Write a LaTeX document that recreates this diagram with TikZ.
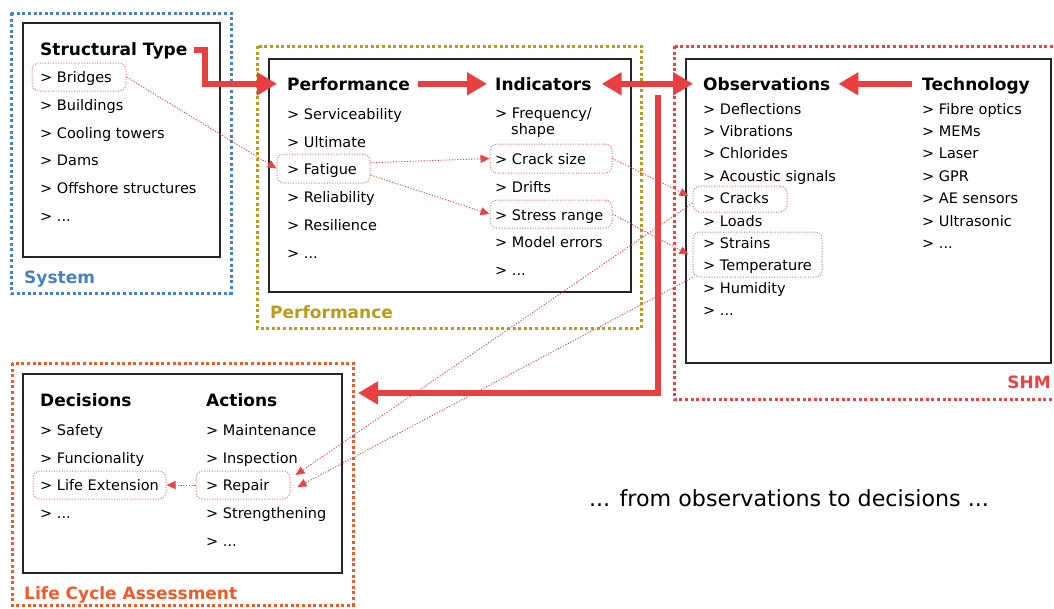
\documentclass[tikz,border=0pt]{standalone}
\usepackage{fontspec}
\setmainfont{DejaVu Sans}
\usetikzlibrary{arrows.meta}
\definecolor{sysblue}{RGB}{70,130,190}
\definecolor{perfolive}{RGB}{185,155,25}
\definecolor{shmred}{RGB}{232,68,68}
\definecolor{lcaorange}{RGB}{240,90,40}
\definecolor{arrred}{RGB}{232,64,64}
\definecolor{hlpink}{RGB}{240,110,110}
\definecolor{linkred}{RGB}{232,70,70}
\begin{document}
\begin{tikzpicture}[x=1pt,y=-1pt,
  item/.style={anchor=base west, inner sep=0pt, font=\fontsize{14.5}{16}\selectfont},
  head/.style={anchor=west, inner sep=0pt, text height=12.4pt, text depth=0pt, font=\bfseries\fontsize{17}{19}\selectfont},
  grplabel/.style={anchor=base west, inner sep=0pt, font=\bfseries\fontsize{17}{19}\selectfont},
  grp/.style={line width=3pt, dash pattern=on 3pt off 2.6pt},
  framebox/.style={draw=black!85, line width=1.6pt},
  hl/.style={draw=hlpink, line width=1pt, dash pattern=on 1pt off 1.6pt, rounded corners=7pt, inner sep=0pt},
  link/.style={draw=linkred, line width=0.9pt, dash pattern=on 1.2pt off 1.6pt, -{Triangle[length=9pt,width=8pt]}},
  bigarrow/.style={draw=arrred, line width=6pt, line join=miter, -{Triangle[length=20pt,width=22pt]}},
  bigdouble/.style={draw=arrred, line width=6pt, {Triangle[length=20pt,width=22pt]}-{Triangle[length=20pt,width=22pt]}}
]
\useasboundingbox (0,0) rectangle (1054,608);

% group frames
\draw[grp, draw=sysblue] (11,13) rectangle (231,293);
\draw[framebox] (23,23) rectangle (220,257);
\draw[grp, draw=perfolive] (257,46) rectangle (641,328);
\draw[framebox] (269,59) rectangle (631,292);
\draw[grp, draw=shmred] (674,46) rectangle (1062,399);
\draw[framebox] (686,59) rectangle (1051,363);
\draw[grp, draw=lcaorange] (12,363) rectangle (353,605);
\draw[framebox] (23,374) rectangle (342,573);

% group labels
\node[grplabel, text=sysblue] (lsys) at (24,283) {System};
\node[grplabel, text=perfolive] (lperf) at (270,318) {Performance};
\node[grplabel, text=shmred, anchor=base east] (lshm) at (1051,388) {SHM};
\node[grplabel, text=lcaorange] (llca) at (24,599) {Life Cycle Assessment};

% System
\node[head] (sthead) at (40,48.8) {Structural Type};
\node[item] (s1) at (40,82) {> Bridges};
\node[item] (s2) at (40,110) {> Buildings};
\node[item] (s3) at (40,138) {> Cooling towers};
\node[item] (s4) at (40,165) {> Dams};
\node[item] (s5) at (40,193) {> Offshore structures};
\node[item] (s6) at (40,221) {> ...};

% Performance
\node[head] (perfhead) at (287,83.8) {Performance};
\node[item] (p1) at (287,119) {> Serviceability};
\node[item] (p2) at (287,147) {> Ultimate};
\node[item] (p3) at (287,174) {> Fatigue};
\node[item] (p4) at (287,202) {> Reliability};
\node[item] (p5) at (287,230) {> Resilience};
\node[item] (p6) at (287,258) {> ...};

% Indicators
\node[head] (indhead) at (495,83.8) {Indicators};
\node[item] (i1) at (495,118) {> Frequency/};
\node[item] (i1b) at (511,134.5) {shape};
\node[item] (i2) at (495,164) {> Crack size};
\node[item] (i3) at (495,192) {> Drifts};
\node[item] (i4) at (495,220) {> Stress range};
\node[item] (i5) at (495,247) {> Model errors};
\node[item] (i6) at (495,275) {> ...};

% Observations
\node[head] (obshead) at (703,83.8) {Observations};
\node[item] (o1) at (703,114) {> Deflections};
\node[item] (o2) at (703,136.4) {> Vibrations};
\node[item] (o3) at (703,158.8) {> Chlorides};
\node[item] (o4) at (703,181.2) {> Acoustic signals};
\node[item] (o5) at (703,203.6) {> Cracks};
\node[item] (o6) at (703,226) {> Loads};
\node[item] (o7) at (703,248.4) {> Strains};
\node[item] (o8) at (703,270.8) {> Temperature};
\node[item] (o9) at (703,293.2) {> Humidity};
\node[item] (o10) at (703,315.6) {> ...};

% Technology
\node[head] (techhead) at (922,83.8) {Technology};
\node[item] (t1) at (922,114) {> Fibre optics};
\node[item] (t2) at (922,136.4) {> MEMs};
\node[item] (t3) at (922,158.8) {> Laser};
\node[item] (t4) at (922,181.2) {> GPR};
\node[item] (t5) at (922,203.6) {> AE sensors};
\node[item] (t6) at (922,226) {> Ultrasonic};
\node[item] (t7) at (922,248.4) {> ...};

% Decisions
\node[head] (dechead) at (40,399.8) {Decisions};
\node[item] (d1) at (40,435) {> Safety};
\node[item] (d2) at (40,463) {> Funcionality};
\node[item] (d3) at (40,490) {> Life Extension};
\node[item] (d4) at (40,518) {> ...};

% Actions
\node[head] (acthead) at (206,399.8) {Actions};
\node[item] (a1) at (206,435) {> Maintenance};
\node[item] (a2) at (206,463) {> Inspection};
\node[item] (a3) at (206,490) {> Repair};
\node[item] (a4) at (206,518) {> Strengthening};
\node[item] (a5) at (206,546) {> ...};

% bottom caption
\node[anchor=base, inner sep=0pt, font=\fontsize{22.2}{25}\selectfont] (caption) at (789,506) {... from observations to decisions ...};

% highlight boxes
\node[hl, minimum width=94, minimum height=28] (bridgesbox) at (79,77) {};
\node[hl, minimum width=93, minimum height=29] (fatiguebox) at (323.5,168.5) {};
\node[hl, minimum width=122, minimum height=29] (crackbox) at (551,158.5) {};
\node[hl, minimum width=122, minimum height=28] (stressbox) at (551,214) {};
\node[hl, minimum width=94, minimum height=26] (cracksbox) at (740,199) {};
\node[hl, minimum width=129, minimum height=45] (strainsbox) at (757.5,254.5) {};
\node[hl, minimum width=133, minimum height=28] (lifebox) at (99.5,485) {};
\node[hl, minimum width=94, minimum height=28] (repairbox) at (243,485) {};

% big arrows
\draw[bigarrow] ([xshift=6pt,yshift=-1pt]sthead.east) -- ++(11,0) |- ([xshift=-10pt]perfhead.west);
\draw[bigarrow] ([xshift=8pt]perfhead.east) -- ([xshift=-8pt]indhead.west);
\draw[bigdouble] ([xshift=10pt]indhead.east) -- ([xshift=-10pt]obshead.west);
\draw[bigarrow] ([xshift=-10pt]techhead.west) -- ([xshift=8pt]obshead.east);
\coordinate (lstart) at (658,95);
\coordinate (lend) at (358,393);
\draw[bigarrow] (lstart) |- (lend);

% dotted links
\draw[link] (bridgesbox.east) -- (fatiguebox.west);
\draw[link] (fatiguebox.7) -- (crackbox.west);
\draw[link] (fatiguebox.-8) -- (stressbox.west);
\draw[link] (crackbox.east) -- ([xshift=-4pt,yshift=3pt]cracksbox.west);
\draw[link] (stressbox.east) -- ([xshift=-4pt]strainsbox.west);
\draw[link] ([yshift=-4pt]cracksbox.west) -- ([xshift=5pt,yshift=10pt]repairbox.east);
\draw[link] (strainsbox.south west) -- ([xshift=7pt,yshift=-2pt]repairbox.east);
\draw[link] (repairbox.west) -- (lifebox.east);
\end{tikzpicture}
\end{document}
